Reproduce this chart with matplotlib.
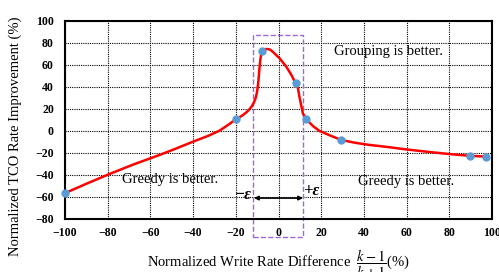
import matplotlib
matplotlib.use("Agg")
import matplotlib.pyplot as plt
from matplotlib.patches import Rectangle

plt.rcParams["font.family"] = ["Liberation Serif", "DejaVu Serif"]
plt.rcParams["mathtext.fontset"] = "stix"

# curve
curve_x = [-100, -90, -79, -68, -55.7, -48, -40, -33, -27.6, -24, -20, -17, -15, -13.5,
           -12.5, -11.5, -10.8, -10.2, -9.8, -9.4, -9.1, -8.8, -8.4, -8, -7.6, -6.5,
           -5.3, -4, -2.7, 0.5, 3.6, 6, 8, 9.1, 9.8, 10.6, 11.4, 13, 16.1, 19.2, 24,
           29.4, 36, 42.6, 52, 59, 70, 80, 89.5, 97]
curve_y = [-56.5, -48, -39, -30.5, -21.8, -16, -9.7, -4.5, 0.3, 5, 10.5, 14, 17, 20,
           22.5, 26, 29.5, 34, 39, 46, 53, 60, 66.5, 70.5, 72.7, 74.3,
           74.5, 74, 72, 66, 58.5, 51, 43.3, 38.8, 31, 23.6, 16, 10.6, 4.5, 0, -4,
           -8.2, -10.8, -12.7, -14.8, -16.6, -19, -21, -22.6, -23.3]

# measured points
pts_x = [-100, -20, -7.6, 8, 13, 29.4, 89.5, 97]
pts_y = [-56.5, 10.5, 72.7, 43.3, 10.6, -8.2, -22.6, -23.3]

xticks = list(range(-100, 101, 20))
yticks = list(range(-80, 101, 20))

fig = plt.figure(figsize=(4.99, 2.72), dpi=100)
ax = fig.add_axes([0.1303, 0.195, 0.8557, 0.728])

ax.set_xlim(-100, 100)
ax.set_ylim(-80, 100)
ax.set_xticks(xticks)
ax.set_yticks(yticks)
ax.grid(True, color="black", linestyle=(0, (1, 1)), linewidth=0.8)
ax.tick_params(length=0, labelsize=8.5)
ax.tick_params(axis="x", pad=6)
ax.tick_params(axis="y", pad=8)
for lab in ax.get_xticklabels() + ax.get_yticklabels():
    lab.set_fontweight("bold")
for s in ax.spines.values():
    s.set_linewidth(1.5)

ax.annotate("", xy=(100.5, 0), xytext=(-100, 0),
            arrowprops=dict(arrowstyle="-|>", lw=1.6, color="black",
                            mutation_scale=8, shrinkA=0, shrinkB=0))

ax.plot(curve_x, curve_y, color="#ff0000", lw=1.8, solid_joinstyle="round",
        solid_capstyle="round", zorder=3)
ax.plot(pts_x, pts_y, "o", color="#5b9bd5", ms=5, zorder=4, clip_on=False)

ax.add_patch(Rectangle((-12, -96), 23.5, 183.5, fill=False, edgecolor="#a066dd",
                       linestyle="--", lw=1.0, clip_on=False, zorder=2))
ax.annotate("", xy=(-11.5, -61), xytext=(11.5, -61),
            arrowprops=dict(arrowstyle="<|-|>", lw=1.2, color="black",
                            mutation_scale=6, shrinkA=0, shrinkB=0))
ax.text(-12.5, -58, "\u2212\u03b5", ha="right", va="center", fontsize=12,
        fontweight="bold", fontstyle="italic")
ax.text(12, -55, "+\u03b5", ha="left", va="center", fontsize=12,
        fontweight="bold", fontstyle="italic")

ax.text(51.5, 72, "Grouping is better.", ha="center", va="center", fontsize=10.5)
ax.text(-50.7, -44.5, "Greedy is better.", ha="center", va="center", fontsize=10.5)
ax.text(59.8, -46, "Greedy is better.", ha="center", va="center", fontsize=10.5)

ax.set_ylabel("Normalized TCO Rate Improvement (%)", fontsize=10.5)
ax.yaxis.set_label_coords(-0.1, 0.42)
ax.set_xlabel(r"Normalized Write Rate Difference  $\dfrac{k-1}{k+1}$(%)", fontsize=10.5,
              labelpad=6)

fig.savefig("out.png", dpi=100)
